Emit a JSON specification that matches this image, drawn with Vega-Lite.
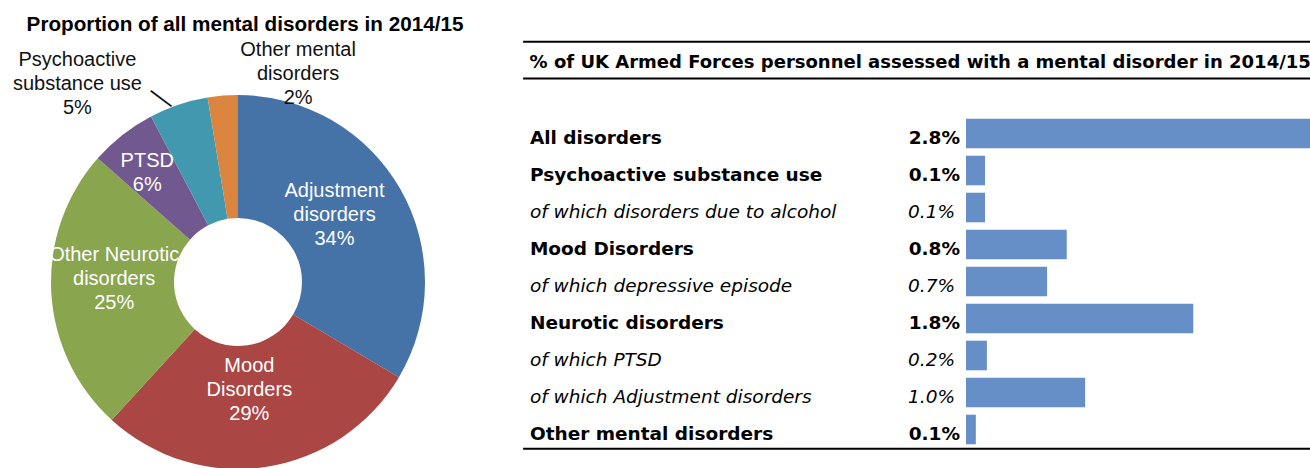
{
  "$schema": "https://vega.github.io/schema/vega-lite/v6.json",
  "background": "white",
  "padding": {"left": 0, "top": 14, "right": 0, "bottom": 0},
  "bounds": "flush",
  "spacing": 490,
  "config": {"view": {"stroke": null}, "font": "Liberation Sans"},
  "hconcat": [
    {
      "width": 476,
      "height": 334,
      "title": {"text": "Proportion of all mental disorders in 2014/15", "font": "Liberation Sans", "fontSize": 20.7, "fontWeight": "bold", "color": "#000000", "anchor": "middle", "dx": 7, "offset": 4},
      "data": {"values": [
        {"idx": 1, "name": "Adjustment disorders", "share": 33.5, "label": "Adjustment\ndisorders\n34%"},
        {"idx": 2, "name": "Mood Disorders", "share": 28.3, "label": "Mood\nDisorders\n29%"},
        {"idx": 3, "name": "Other Neurotic disorders", "share": 24.7, "label": "Other Neurotic\ndisorders\n25%"},
        {"idx": 4, "name": "PTSD", "share": 5.8, "label": "PTSD\n6%"},
        {"idx": 5, "name": "Psychoactive substance use", "share": 5.1, "label": "Psychoactive\nsubstance use\n5%"},
        {"idx": 6, "name": "Other mental disorders", "share": 2.6, "label": "Other mental\ndisorders\n2%"}
      ]},
      "encoding": {
        "theta": {"field": "share", "type": "quantitative", "stack": true, "scale": {"domain": [0, 100]}},
        "order": {"field": "idx", "type": "quantitative"}
      },
      "layer": [
        {
          "mark": {"type": "arc", "innerRadius": 64, "outerRadius": 187},
          "encoding": {
            "color": {"field": "name", "type": "nominal", "legend": null,
              "scale": {"domain": ["Adjustment disorders", "Mood Disorders", "Other Neurotic disorders", "PTSD", "Psychoactive substance use", "Other mental disorders"],
                        "range": ["#4572A7", "#AA4643", "#89A54E", "#71588F", "#4198AF", "#DB843D"]}}
          }
        },
        {
          "mark": {"type": "text", "radius": 118, "dx": -6, "dy": -33, "fill": "#ffffff", "fontSize": 20, "lineBreak": "\n", "lineHeight": 24, "align": "center", "baseline": "middle"},
          "encoding": {"text": {"condition": {"test": "datum.idx <= 3", "field": "label"}, "value": ""}}
        },
        {
          "mark": {"type": "text", "radius": 142, "dx": -3, "dy": -9, "fill": "#ffffff", "fontSize": 20, "lineBreak": "\n", "lineHeight": 24, "align": "center", "baseline": "middle"},
          "encoding": {"text": {"condition": {"test": "datum.idx === 4", "field": "label"}, "value": ""}}
        },
        {
          "mark": {"type": "text", "radius": 100, "dx": -128.8, "dy": -127, "fill": "#111111", "fontSize": 20, "lineBreak": "\n", "lineHeight": 24, "align": "center", "baseline": "middle"},
          "encoding": {"text": {"condition": {"test": "datum.idx === 5", "field": "label"}, "value": ""}}
        },
        {
          "mark": {"type": "text", "radius": 200, "dx": 76.4, "dy": -32.5, "fill": "#111111", "fontSize": 20, "lineBreak": "\n", "lineHeight": 24, "align": "center", "baseline": "middle"},
          "encoding": {"text": {"condition": {"test": "datum.idx === 6", "field": "label"}, "value": ""}}
        },
        {
          "mark": {"type": "text", "radius": 200, "dx": -6.9, "dy": 11.6, "fill": "#111111", "fontSize": 26, "angle": 37, "align": "center", "baseline": "middle"},
          "encoding": {"text": {"condition": {"test": "datum.idx === 5", "value": "—"}, "value": ""}}
        }
      ]
    },
    {
      "width": 344,
      "height": 333,
      "data": {"values": [
        {"idx": 1, "label": "All disorders", "level": "main", "value": 2.8, "pct": "2.8%"},
        {"idx": 2, "label": "Psychoactive substance use", "level": "main", "value": 0.155, "pct": "0.1%"},
        {"idx": 3, "label": "of which disorders due to alcohol", "level": "sub", "value": 0.155, "pct": "0.1%"},
        {"idx": 4, "label": "Mood Disorders", "level": "main", "value": 0.82, "pct": "0.8%"},
        {"idx": 5, "label": "of which depressive episode", "level": "sub", "value": 0.66, "pct": "0.7%"},
        {"idx": 6, "label": "Neurotic disorders", "level": "main", "value": 1.85, "pct": "1.8%"},
        {"idx": 7, "label": "of which PTSD", "level": "sub", "value": 0.17, "pct": "0.2%"},
        {"idx": 8, "label": "of which Adjustment disorders", "level": "sub", "value": 0.97, "pct": "1.0%"},
        {"idx": 9, "label": "Other mental disorders", "level": "main", "value": 0.08, "pct": "0.1%"}
      ]},
      "layer": [
        {
          "mark": {"type": "bar", "color": "#658FC6", "clip": true},
          "encoding": {
            "x": {"field": "value", "type": "quantitative", "scale": {"domain": [0, 2.8], "nice": false, "zero": true}, "axis": null},
            "y": {"field": "label", "type": "nominal", "sort": null,
              "scale": {"paddingInner": 0.2, "paddingOuter": 0.1},
              "axis": {"title": null, "domain": false, "ticks": false, "tickSize": 0, "labelAlign": "left", "labelPadding": 436.6, "labelLimit": 420,
                "labelFont": "DejaVu Sans", "labelFontSize": 18.5, "labelColor": "#000000", "labelOffset": 4.5,
                "labelFontWeight": {"condition": {"test": "indexof(datum.label, 'of which') === 0", "value": "normal"}, "value": "bold"},
                "labelFontStyle": {"condition": {"test": "indexof(datum.label, 'of which') === 0", "value": "italic"}, "value": "normal"}}}
          }
        },
        {
          "transform": [{"filter": "datum.level === 'main'"}],
          "mark": {"type": "text", "align": "right", "baseline": "middle", "dx": -6, "dy": 4.5, "font": "DejaVu Sans", "fontSize": 18.5, "fontWeight": "bold", "fill": "#000000"},
          "encoding": {
            "x": {"datum": 0, "type": "quantitative", "scale": {"domain": [0, 2.8], "nice": false}},
            "y": {"field": "label", "type": "nominal", "sort": null},
            "text": {"field": "pct", "type": "nominal"}
          }
        },
        {
          "transform": [{"filter": "datum.level === 'sub'"}],
          "mark": {"type": "text", "align": "right", "baseline": "middle", "dx": -11, "dy": 4.5, "font": "DejaVu Sans", "fontSize": 18.5, "fontStyle": "italic", "fill": "#000000"},
          "encoding": {
            "x": {"datum": 0, "type": "quantitative", "scale": {"domain": [0, 2.8], "nice": false}},
            "y": {"field": "label", "type": "nominal", "sort": null},
            "text": {"field": "pct", "type": "nominal"}
          }
        },
        {
          "data": {"values": [{"title": "% of UK Armed Forces personnel assessed with a mental disorder in 2014/15"}]},
          "mark": {"type": "text", "align": "left", "baseline": "middle", "font": "DejaVu Sans", "fontSize": 18, "fontWeight": "bold", "fill": "#000000"},
          "encoding": {
            "x": {"datum": -3.552, "type": "quantitative", "scale": {"domain": [0, 2.8], "nice": false}},
            "y": {"datum": "All disorders", "type": "nominal", "bandPosition": -1.88},
            "text": {"field": "title", "type": "nominal"}
          }
        },
        {
          "data": {"values": [{"rule": "top"}]},
          "mark": {"type": "rule", "color": "#000000", "strokeWidth": 2.2},
          "encoding": {
            "x": {"datum": -3.605, "type": "quantitative", "scale": {"domain": [0, 2.8], "nice": false}},
            "x2": {"datum": 3.0},
            "y": {"datum": "All disorders", "type": "nominal", "bandPosition": -2.6}
          }
        },
        {
          "data": {"values": [{"rule": "under title"}]},
          "mark": {"type": "rule", "color": "#000000", "strokeWidth": 2.2},
          "encoding": {
            "x": {"datum": -3.605, "type": "quantitative", "scale": {"domain": [0, 2.8], "nice": false}},
            "x2": {"datum": 3.0},
            "y": {"datum": "All disorders", "type": "nominal", "bandPosition": -1.358}
          }
        },
        {
          "data": {"values": [{"rule": "bottom"}]},
          "mark": {"type": "rule", "color": "#000000", "strokeWidth": 2.2},
          "encoding": {
            "x": {"datum": -3.605, "type": "quantitative", "scale": {"domain": [0, 2.8], "nice": false}},
            "x2": {"datum": 3.0},
            "y": {"datum": "Other mental disorders", "type": "nominal", "bandPosition": 1.15}
          }
        }
      ]
    }
  ]
}
